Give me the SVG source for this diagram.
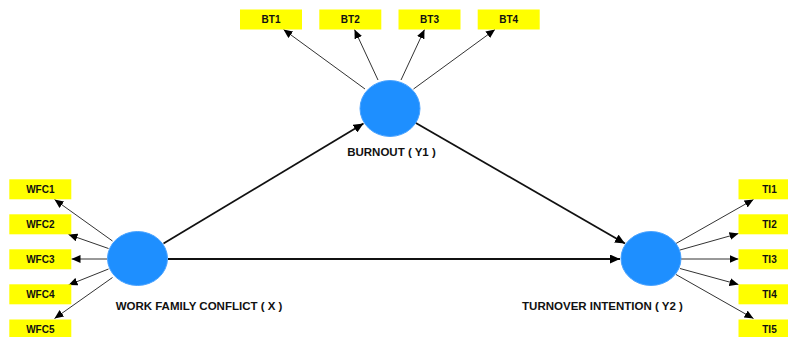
<svg xmlns="http://www.w3.org/2000/svg" width="788" height="337" viewBox="0 0 788 337">
<style>
.box{fill:#ffff00;}
.bt{font-family:"Liberation Sans",Arial,sans-serif;font-weight:bold;font-size:10px;fill:#111;text-anchor:middle;}
.lbl{font-family:"Liberation Sans",Arial,sans-serif;font-weight:bold;font-size:11.5px;fill:#111;text-anchor:middle;}
.lv{fill:#1e8fff;stroke:#4aa3ff;stroke-width:1;}
.ind{stroke:#333;stroke-width:1;fill:none;marker-end:url(#ah);}
.path{stroke:#111;stroke-width:1.8;fill:none;marker-end:url(#ahb);}
</style>
<defs>
<marker id="ah" markerUnits="userSpaceOnUse" markerWidth="10" markerHeight="8" refX="9" refY="4" orient="auto"><path d="M0,0 L9,4 L0,8 Z" fill="#000"/></marker>
<marker id="ahb" markerUnits="userSpaceOnUse" markerWidth="11" markerHeight="9" refX="10" refY="4.5" orient="auto"><path d="M0,0 L10,4.5 L0,9 Z" fill="#000"/></marker>
</defs>
<rect width="788" height="337" fill="#fff"/>
<g id="connectors">
<line class="path" x1="163.5" y1="243.5" x2="363.5" y2="123.5"/>
<line class="path" x1="168" y1="259" x2="620" y2="259"/>
<line class="path" x1="415" y1="122.5" x2="625" y2="243.5"/>
<line class="ind" x1="365" y1="89" x2="283.5" y2="29.5"/>
<line class="ind" x1="378" y1="80" x2="354.5" y2="29.5"/>
<line class="ind" x1="401" y1="80" x2="424.5" y2="29.5"/>
<line class="ind" x1="413.5" y1="89" x2="495" y2="29.5"/>
<line class="ind" x1="112.5" y1="241" x2="54.5" y2="199.5"/>
<line class="ind" x1="108.5" y1="248.5" x2="68.5" y2="234.5"/>
<line class="ind" x1="107.5" y1="259" x2="71.5" y2="259"/>
<line class="ind" x1="108.5" y1="269" x2="68.5" y2="285"/>
<line class="ind" x1="112.5" y1="277.5" x2="54.5" y2="318.5"/>
<line class="ind" x1="676" y1="243.5" x2="753.5" y2="199.5"/>
<line class="ind" x1="680" y1="250" x2="738.5" y2="233.5"/>
<line class="ind" x1="681" y1="259" x2="738.5" y2="259"/>
<line class="ind" x1="680" y1="268.5" x2="738.5" y2="284.5"/>
<line class="ind" x1="676" y1="274.5" x2="753.5" y2="318.5"/>
</g>
<g id="BT1"><rect class="box" x="240" y="9.5" width="62" height="20"/><text class="bt" x="271" y="23">BT1</text></g>
<g id="BT2"><rect class="box" x="319.3" y="9.5" width="62" height="20"/><text class="bt" x="350.3" y="23">BT2</text></g>
<g id="BT3"><rect class="box" x="398.5" y="9.5" width="62" height="20"/><text class="bt" x="429.5" y="23">BT3</text></g>
<g id="BT4"><rect class="box" x="477.7" y="9.5" width="62" height="20"/><text class="bt" x="508.7" y="23">BT4</text></g>
<g id="WFC1"><rect class="box" x="9.3" y="179.3" width="62" height="20"/><text class="bt" x="40.3" y="193">WFC1</text></g>
<g id="WFC2"><rect class="box" x="9.3" y="214.3" width="62" height="20"/><text class="bt" x="40.3" y="228">WFC2</text></g>
<g id="WFC3"><rect class="box" x="9.3" y="249.3" width="62" height="20"/><text class="bt" x="40.3" y="263">WFC3</text></g>
<g id="WFC4"><rect class="box" x="9.3" y="284.3" width="62" height="20"/><text class="bt" x="40.3" y="298">WFC4</text></g>
<g id="WFC5"><rect class="box" x="9.3" y="319.5" width="62" height="20"/><text class="bt" x="40.3" y="333">WFC5</text></g>
<g id="TI1"><rect class="box" x="738.5" y="179.3" width="62" height="20"/><text class="bt" x="769.5" y="193">TI1</text></g>
<g id="TI2"><rect class="box" x="738.5" y="214.3" width="62" height="20"/><text class="bt" x="769.5" y="228">TI2</text></g>
<g id="TI3"><rect class="box" x="738.5" y="249.3" width="62" height="20"/><text class="bt" x="769.5" y="263">TI3</text></g>
<g id="TI4"><rect class="box" x="738.5" y="284.3" width="62" height="20"/><text class="bt" x="769.5" y="298">TI4</text></g>
<g id="TI5"><rect class="box" x="738.5" y="319.5" width="62" height="20"/><text class="bt" x="769.5" y="333">TI5</text></g>
<g id="BURNOUT"><ellipse class="lv" cx="390" cy="108.5" rx="30" ry="28"/><text class="lbl" x="391.5" y="155.5">BURNOUT ( Y1 )</text></g>
<g id="WFC"><ellipse class="lv" cx="137.5" cy="258.5" rx="30" ry="27"/><text class="lbl" x="199" y="310">WORK FAMILY CONFLICT ( X )</text></g>
<g id="TI"><ellipse class="lv" cx="651" cy="258.5" rx="30" ry="27"/><text class="lbl" x="602.5" y="310">TURNOVER INTENTION ( Y2 )</text></g>
</svg>
